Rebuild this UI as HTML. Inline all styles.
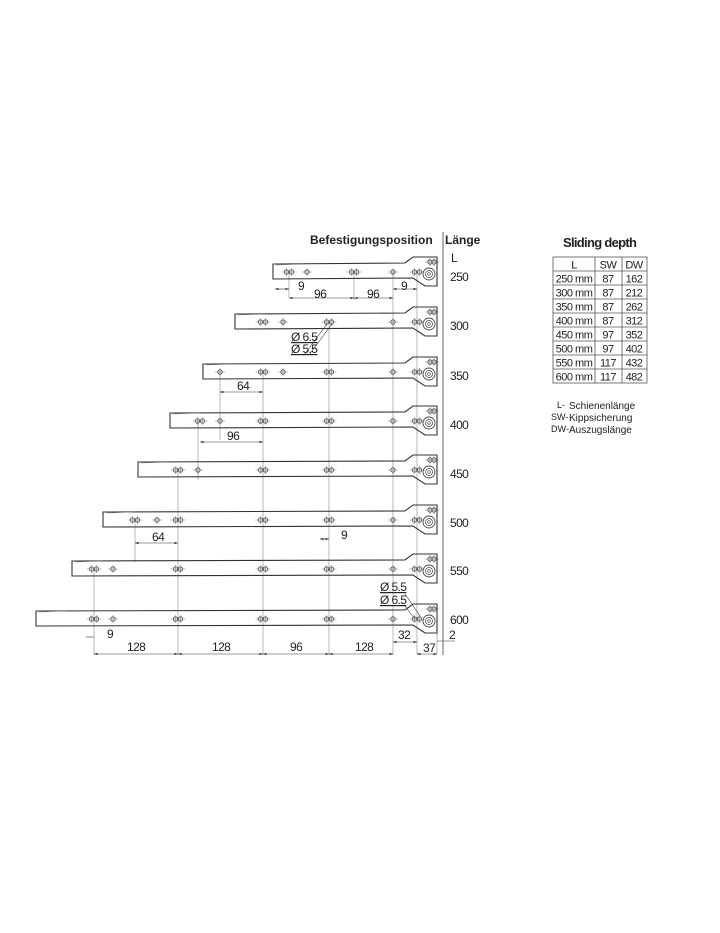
<!DOCTYPE html>
<html><head><meta charset="utf-8">
<style>
html,body{margin:0;padding:0;background:#fff;}
body{width:720px;height:933px;overflow:hidden;}
svg{display:block;}
text{font-family:"Liberation Sans",sans-serif;fill:#222;}
.n{font-family:"Liberation Sans",sans-serif;font-size:12px;letter-spacing:-0.6px;}
</style></head>
<body>
<svg id="s" width="720" height="933" viewBox="0 0 720 933" xmlns="http://www.w3.org/2000/svg">
<defs>
<marker id="a" markerWidth="6" markerHeight="4" refX="6" refY="2" orient="auto-start-reverse"><path d="M0,0 L6,2 L0,4z" fill="#333"/></marker>
</defs>
<g id="g" stroke="#444" fill="none" stroke-width="1"></g>
<line x1="443" y1="232" x2="443" y2="655" stroke="#666" stroke-width="1"/>
<text x="310" y="244" font-size="12" font-weight="bold">Befestigungsposition</text>
<text x="445" y="244" font-size="12" font-weight="bold">Länge</text>
<text x="451" y="262" class="n">L</text>
<text x="450" y="281" class="n">250</text>
<text x="450" y="330" class="n">300</text>
<text x="450" y="380" class="n">350</text>
<text x="450" y="429" class="n">400</text>
<text x="450" y="478" class="n">450</text>
<text x="450" y="527" class="n">500</text>
<text x="450" y="575" class="n">550</text>
<text x="450" y="624" class="n">600</text>
<text x="298" y="290" class="n">9</text>
<text x="314" y="298" class="n">96</text>
<text x="367" y="298" class="n">96</text>
<text x="401" y="290" class="n">9</text>
<text x="291" y="341" class="n" text-decoration="underline">Ø 6.5</text>
<text x="291" y="353" class="n" text-decoration="underline">Ø 5.5</text>
<text x="237" y="390" class="n">64</text>
<text x="227" y="440" class="n">96</text>
<text x="152" y="541" class="n">64</text>
<text x="341" y="539" class="n">9</text>
<text x="380" y="591" class="n" text-decoration="underline">Ø 5.5</text>
<text x="380" y="604" class="n" text-decoration="underline">Ø 6.5</text>
<text x="107" y="638" class="n">9</text>
<text x="127" y="651" class="n">128</text>
<text x="212" y="651" class="n">128</text>
<text x="290" y="651" class="n">96</text>
<text x="355" y="651" class="n">128</text>
<text x="398" y="639" class="n">32</text>
<text x="423" y="652" class="n">37</text>
<text x="449" y="639" class="n">2</text>
<text x="563" y="247" font-size="13" font-weight="bold" letter-spacing="-0.7">Sliding depth</text>
<g stroke="#555" stroke-width="0.8" fill="none">
<rect x="553" y="257" width="94" height="126"/>
<line x1="595" y1="257" x2="595" y2="383"/><line x1="622" y1="257" x2="622" y2="383"/>
</g>
<g id="tb"></g>
<text x="557" y="408" font-size="9">L- </text><text x="569" y="409" font-size="10">Schienenlänge</text>
<text x="551" y="420" font-size="9">SW-</text><text x="569" y="421" font-size="10">Kippsicherung</text>
<text x="551" y="432" font-size="9">DW-</text><text x="569" y="433" font-size="10">Auszugslänge</text>
</svg>
<script>
var g=document.getElementById('g'),NS="http://www.w3.org/2000/svg";
function el(t,a){var e=document.createElementNS(NS,t);for(var k in a)e.setAttribute(k,a[k]);g.appendChild(e);return e;}
function ln(x1,y1,x2,y2,w,c,m){var e=el('line',{x1:x1,y1:y1,x2:x2,y2:y2,'stroke-width':w||0.8,stroke:c||'#555'});if(m){e.setAttribute('marker-start','url(#a)');e.setAttribute('marker-end','url(#a)');}return e;}
function hole(x,y){el('circle',{cx:x,cy:y,r:2.2,'stroke-width':0.8});ln(x-5,y,x+5,y,0.5,'#777');ln(x,y-4,x,y+4,0.5,'#777');}
function pair(x,y){hole(x-2.5,y);hole(x+2.5,y);}
var rails=[[273,272,[['p',289],['s',307],['p',354]]],[235,322,[['p',263],['s',283],['p',329]]],[203,372,[['s',220],['p',263],['s',283],['p',329]]],[170,421,[['p',200],['s',220],['p',263],['p',329]]],[138,470,[['p',178],['s',198],['p',263],['p',329]]],[103,520,[['p',135],['s',157],['p',178],['p',263],['p',329]]],[72,569,[['p',94],['s',113],['p',178],['p',263],['p',329]]],[36,619,[['p',94],['s',113],['p',178],['p',263],['p',329]]]];
[[178,470,655],[263,372,655],[329,322,655],[393,272,655],[417,272,655],[94,569,655],[135,520,562],[198,421,480],[220,372,440],[289,272,298],[354,272,300],[437,625,655]].forEach(function(v){ln(v[0],v[1],v[0],v[2],0.6,'#888');});
rails.forEach(function(r){var L=r[0],c=r[1];
 el('path',{d:'M'+L+','+(c-8)+' L405,'+(c-9)+' L413,'+(c-15)+' L437,'+(c-15)+' L437,'+(c+14)+' L425,'+(c+14)+' L413,'+(c+6)+' L'+L+','+(c+7)+' Z','stroke-width':1.1,stroke:'#333'});
 ln(L+3,c-7,L+30,c-8,0.5,'#777');
 r[2].forEach(function(h){if(h[0]=='p')pair(h[1],c);else hole(h[1],c);});
 hole(393,c);pair(417,c);
 el('circle',{cx:429,cy:c+2,r:6,'stroke-width':0.9});el('circle',{cx:429,cy:c+2,r:3.5,'stroke-width':0.7});el('circle',{cx:429,cy:c+2,r:1.3,'stroke-width':0.6});
 hole(430,c-10);hole(434,c-10);
});
ln(275,289,289,289,0.6,'#333',1);ln(289,298,354,298,0.6,'#333',1);ln(354,298,393,298,0.6,'#333',1);ln(393,289,417,289,0.6,'#333',1);
ln(220,392,263,392,0.6,'#333',1);ln(200,442,263,442,0.6,'#333',1);ln(135,543,178,543,0.6,'#333',1);ln(320,539,329,539,0.6,'#333',1);
ln(86,637,94,637,0.6,'#333');ln(94,654,178,654,0.6,'#333',1);ln(178,654,263,654,0.6,'#333',1);ln(263,654,329,654,0.6,'#333',1);ln(329,654,393,654,0.6,'#333',1);
ln(393,642,417,642,0.6,'#333',1);ln(417,654,437,654,0.6,'#333',1);ln(437,641,455,641,0.6,'#333');
ln(327,324,304,355,0.6,'#333');ln(332,324,309,355,0.6,'#333');ln(405,594,420,616,0.6,'#333');ln(405,606,415,619,0.6,'#333');
var tb=document.getElementById('tb');
var rows=[['L','SW','DW'],['250 mm','87','162'],['300 mm','87','212'],['350 mm','87','262'],['400 mm','87','312'],['450 mm','97','352'],['500 mm','97','402'],['550 mm','117','432'],['600 mm','117','482']];
rows.forEach(function(r,i){var y=257+14*(i+1);
 if(i>0){var l=document.createElementNS(NS,'line');l.setAttribute('x1',553);l.setAttribute('x2',647);l.setAttribute('y1',y-14);l.setAttribute('y2',y-14);l.setAttribute('stroke','#555');l.setAttribute('stroke-width','0.8');tb.appendChild(l);}
 [[574,r[0]],[608,r[1]],[634,r[2]]].forEach(function(c){var t=document.createElementNS(NS,'text');t.setAttribute('x',c[0]);t.setAttribute('y',y-2.5);t.setAttribute('text-anchor','middle');t.setAttribute('font-size','11');t.setAttribute('letter-spacing','-0.5');t.textContent=c[1];tb.appendChild(t);});
});
</script>
</body></html>
